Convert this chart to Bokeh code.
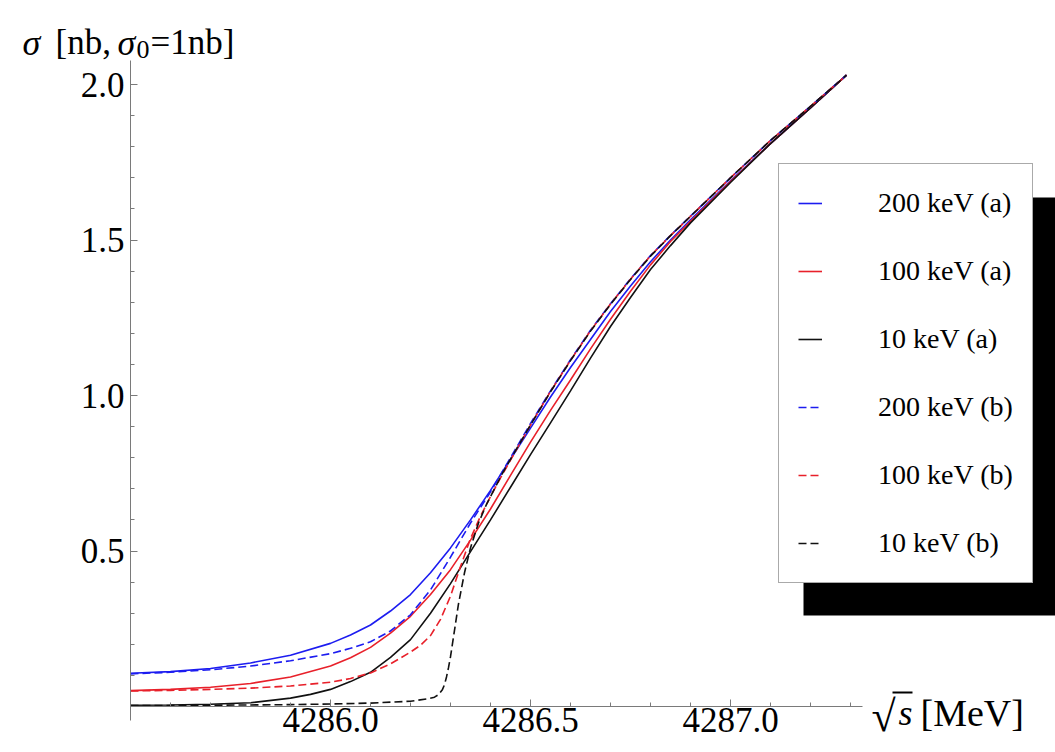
from bokeh.plotting import figure
from bokeh.models import (Range1d, FixedTicker, PrintfTickFormatter, Legend,
                          LegendItem, BoxAnnotation, Label)
from bokeh.embed import file_html
from bokeh.resources import INLINE

# ---------------- data ----------------
x_200a = [4285.5, 4285.6, 4285.7, 4285.8, 4285.9, 4286.0, 4286.05, 4286.1, 4286.15,
          4286.2, 4286.25, 4286.3, 4286.35, 4286.4, 4286.45, 4286.5, 4286.55, 4286.6,
          4286.65, 4286.7, 4286.75, 4286.8, 4286.85, 4286.9, 4287.0, 4287.1, 4287.2,
          4287.29]
y_200a = [0.107, 0.112, 0.122, 0.14, 0.165, 0.203, 0.23, 0.262, 0.307,
          0.36, 0.43, 0.51, 0.60, 0.695, 0.795, 0.895, 0.995, 1.09,
          1.18, 1.27, 1.352, 1.43, 1.50, 1.565, 1.69, 1.81, 1.925,
          2.03]

x_100a = [4285.5, 4285.6, 4285.7, 4285.8, 4285.9, 4286.0, 4286.05, 4286.1, 4286.15,
          4286.2, 4286.25, 4286.3, 4286.35, 4286.4, 4286.45, 4286.5, 4286.55, 4286.6,
          4286.65, 4286.7, 4286.75, 4286.8, 4286.85, 4286.9, 4287.0, 4287.1, 4287.2,
          4287.29]
y_100a = [0.051, 0.055, 0.062, 0.074, 0.095, 0.13, 0.157, 0.19, 0.236,
          0.29, 0.36, 0.44, 0.535, 0.635, 0.743, 0.85, 0.952, 1.05,
          1.15, 1.245, 1.335, 1.42, 1.495, 1.56, 1.688, 1.81, 1.925,
          2.03]

x_10a = [4285.5, 4285.6, 4285.7, 4285.8, 4285.9, 4285.95, 4286.0, 4286.05, 4286.1,
         4286.15, 4286.2, 4286.25, 4286.3, 4286.35, 4286.4, 4286.45, 4286.5, 4286.55,
         4286.6, 4286.65, 4286.7, 4286.75, 4286.8, 4286.85, 4286.9, 4287.0, 4287.1,
         4287.2, 4287.29]
y_10a = [0.004, 0.005, 0.007, 0.012, 0.027, 0.039, 0.055, 0.08, 0.11,
         0.158, 0.215, 0.30, 0.395, 0.498, 0.60, 0.705, 0.81, 0.912,
         1.015, 1.12, 1.222, 1.315, 1.405, 1.482, 1.555, 1.685, 1.81,
         1.925, 2.03]

x_200b = [4285.5, 4285.6, 4285.7, 4285.8, 4285.9, 4286.0, 4286.05, 4286.1, 4286.15,
          4286.2, 4286.25, 4286.3, 4286.35, 4286.4, 4286.45, 4286.5, 4286.55, 4286.6,
          4286.65, 4286.7, 4286.75, 4286.8, 4286.85, 4286.9, 4287.0, 4287.1, 4287.2,
          4287.29]
y_200b = [0.105, 0.11, 0.118, 0.13, 0.147, 0.17, 0.187, 0.208, 0.243,
          0.295, 0.375, 0.48, 0.59, 0.69, 0.80, 0.91, 1.015, 1.115,
          1.21, 1.295, 1.375, 1.45, 1.515, 1.577, 1.70, 1.82, 1.93,
          2.03]

x_100b = [4285.5, 4285.6, 4285.7, 4285.8, 4285.9, 4286.0, 4286.05, 4286.1, 4286.15,
          4286.2, 4286.225, 4286.25, 4286.275, 4286.3, 4286.325, 4286.35, 4286.375,
          4286.4, 4286.425, 4286.45, 4286.5, 4286.55, 4286.6, 4286.65, 4286.7, 4286.75,
          4286.8, 4286.85, 4286.9, 4287.0, 4287.1, 4287.2, 4287.29]
y_100b = [0.05, 0.052, 0.055, 0.059, 0.066, 0.078, 0.09, 0.108, 0.137,
          0.175, 0.197, 0.228, 0.28, 0.355, 0.45, 0.54, 0.612,
          0.675, 0.735, 0.792, 0.905, 1.013, 1.113, 1.208, 1.294, 1.374,
          1.449, 1.514, 1.576, 1.70, 1.82, 1.93, 2.03]

x_10b = [4285.5, 4285.7, 4285.9, 4286.0, 4286.1, 4286.2, 4286.24, 4286.26, 4286.27,
         4286.28, 4286.285, 4286.29, 4286.295, 4286.30, 4286.31, 4286.32, 4286.335,
         4286.35, 4286.37, 4286.39, 4286.41, 4286.43, 4286.45, 4286.5, 4286.55, 4286.6,
         4286.65, 4286.7, 4286.75, 4286.8, 4286.85, 4286.9, 4287.0, 4287.1, 4287.2,
         4287.29]
y_10b = [0.003, 0.004, 0.006, 0.008, 0.011, 0.017, 0.024, 0.03, 0.038,
         0.055, 0.07, 0.095, 0.125, 0.16, 0.245, 0.33, 0.43,
         0.51, 0.59, 0.65, 0.70, 0.75, 0.795, 0.905, 1.012, 1.112,
         1.207, 1.293, 1.373, 1.448, 1.514, 1.576, 1.70, 1.82, 1.93,
         2.03]

x_major_ticks = [4286.0, 4286.5, 4287.0]
x_minor_ticks = [4285.6, 4285.7, 4285.8, 4285.9, 4286.1, 4286.2, 4286.3, 4286.4,
                 4286.6, 4286.7, 4286.8, 4286.9, 4287.1, 4287.2, 4287.3]
y_major_ticks = [0.5, 1.0, 1.5, 2.0]
y_minor_ticks = [0.1, 0.2, 0.3, 0.4, 0.6, 0.7, 0.8, 0.9, 1.1, 1.2, 1.3, 1.4,
                 1.6, 1.7, 1.8, 1.9]

labels = ["200 keV (a)", "100 keV (a)", "10 keV (a)",
          "200 keV (b)", "100 keV (b)", "10 keV (b)"]

BLUE = "#1c1cf0"
RED = "#e8202a"
BLACK = "#111111"
FONT = "Liberation Serif"
W, H = 1055, 752

# ---------------- figure (frame = whole canvas, axes pinned at the origin) ----------------
p = figure(width=W, height=H, output_backend="svg", toolbar_location=None,
           x_range=Range1d(4285.5 - 130 / 400, 4285.5 - 130 / 400 + W / 400),
           y_range=Range1d(-46 / 311, 706 / 311),
           min_border_left=0, min_border_right=0, min_border_top=0,
           min_border_bottom=0)
p.outline_line_color = None
p.grid.visible = False
p.background_fill_color = "white"
p.border_fill_color = "white"

for ax in (p.xaxis[0], p.yaxis[0]):
    ax.axis_line_color = "#7a7a7a"
    ax.axis_line_width = 1
    ax.major_tick_line_color = "#7a7a7a"
    ax.minor_tick_line_color = "#7a7a7a"
    ax.major_tick_in = 7
    ax.major_tick_out = 0
    ax.minor_tick_in = 4
    ax.minor_tick_out = 0
    ax.major_label_text_font = FONT
    ax.major_label_text_font_size = "35px"
    ax.major_label_text_color = "black"
    ax.formatter = PrintfTickFormatter(format="%.1f")

p.xaxis[0].ticker = FixedTicker(ticks=x_major_ticks, minor_ticks=x_minor_ticks)
p.yaxis[0].ticker = FixedTicker(ticks=y_major_ticks, minor_ticks=y_minor_ticks)
p.xaxis[0].fixed_location = 0
p.yaxis[0].fixed_location = 4285.5
p.xaxis[0].bounds = (4285.5, 4287.33)
p.yaxis[0].bounds = (-0.045, 2.077)
p.xaxis[0].major_label_standoff = 1
p.yaxis[0].major_label_standoff = 6

lw = 1.6
dash = "8 4"
styles = [(BLUE, "solid"), (RED, "solid"), (BLACK, "solid"),
          (BLUE, dash), (RED, dash), (BLACK, dash)]
series = [(x_200a, y_200a), (x_100a, y_100a), (x_10a, y_10a),
          (x_200b, y_200b), (x_100b, y_100b), (x_10b, y_10b)]

renderers = []
for (xs, ys), (col, dsh) in zip(series, styles):
    renderers.append(p.line(xs, ys, line_color=col, line_width=lw, line_dash=dsh))

# legend shadow (screen units relative to frame bottom-left = canvas bottom-left)
shadow = BoxAnnotation(left=803, right=W, bottom=H - 615, top=H - 197,
                       left_units="screen", right_units="screen",
                       bottom_units="screen", top_units="screen",
                       fill_color="black", fill_alpha=1.0, line_color=None)
p.add_layout(shadow)

legend = Legend(items=[LegendItem(label=l, renderers=[r])
                       for l, r in zip(labels, renderers)],
                location=(778, H - 583), margin=0, padding=19, spacing=28,
                glyph_width=24, glyph_height=40, label_height=40,
                label_standoff=56,
                label_text_font=FONT, label_text_font_size="28px",
                label_text_color="black",
                border_line_color="#555555", border_line_width=1,
                background_fill_color="white", background_fill_alpha=1.0)
p.add_layout(legend, "center")


def add_label(text, cx, cy, size, style="normal"):
    p.add_layout(Label(x=cx, y=H - cy, x_units="screen", y_units="screen",
                       text=text, text_font=FONT, text_font_size=size,
                       text_font_style=style, text_color="black",
                       text_baseline="alphabetic", text_align="left"))


# y-axis title
add_label("σ", 22, 42, "36px", "italic")
add_label("[nb,", 55, 42, "35px")
add_label("σ", 117, 42, "36px", "italic")
add_label("0", 136, 49, "26px")
add_label("=1nb]", 150, 42, "35px")

# x-axis title
add_label("√", 871, 716, "44px")
add_label("s", 898, 712, "36px", "italic")
add_label("[MeV]", 920, 712, "38px")
radical_bar = BoxAnnotation(left=892, right=912, bottom=H - 693, top=H - 691,
                            left_units="screen", right_units="screen",
                            bottom_units="screen", top_units="screen",
                            fill_color="black", fill_alpha=1.0, line_color=None)
p.add_layout(radical_bar)

open("out.html", "w").write(file_html(p, INLINE))
